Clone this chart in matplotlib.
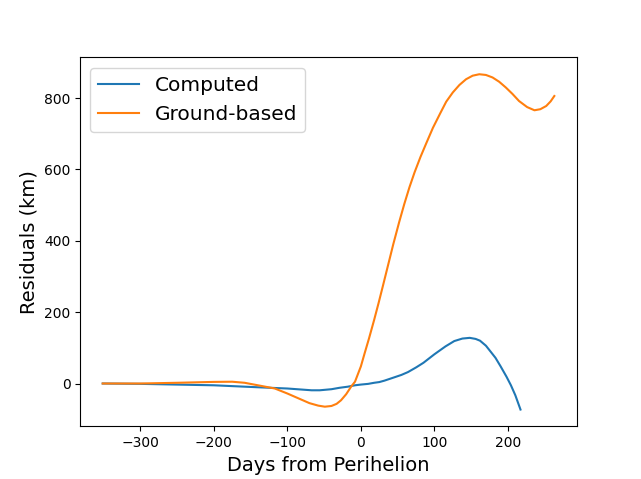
import matplotlib
matplotlib.use("Agg")
import matplotlib.pyplot as plt

computed_days = [-351, -300, -226, -200, -135, -100, -67, -56, -40, -29, -18, -8, 0, 10, 18, 25, 32, 45, 55, 64, 75, 85, 100, 115, 127, 138, 148, 156, 162, 170, 175, 183, 190, 198, 204, 210, 217]
computed_res = [0, -1, -4, -5, -11, -14, -19, -19, -16, -12, -9, -5, -3, -1, 2, 4, 8, 17, 24, 32, 45, 58, 82, 104, 119, 126, 128, 125, 120, 106, 93, 72, 48, 19, -5, -33, -73]

ground_days = [-351, -300, -250, -200, -175, -158, -140, -117, -100, -90, -70, -58, -49, -40, -33, -27, -20, -13, -8, 0, 5, 11, 18, 24, 30, 37, 44, 52, 59, 66, 73, 81, 89, 98, 108, 116, 125, 134, 143, 152, 161, 170, 179, 188, 197, 206, 215, 226, 236, 244, 252, 258, 263]
ground_res = [0, 0, 2, 4.5, 5, 2, -5, -14, -28, -37, -55, -62, -65, -63, -57, -47, -30, -8, 5, 48, 84, 126, 178, 225, 274, 332, 390, 452, 503, 550, 592, 635, 674, 717, 758, 790, 816, 837, 853, 863, 867, 865, 858, 846, 830, 812, 792, 775, 766, 769, 778, 791, 806]

fig, ax = plt.subplots(figsize=(6.41, 4.79), dpi=100)
ax.plot(computed_days, computed_res, label="Computed")
ax.plot(ground_days, ground_res, label="Ground-based")
ax.set_xlabel("Days from Perihelion", fontsize=14)
ax.set_ylabel("Residuals (km)", fontsize=14)
ax.legend(fontsize=14.5, loc="upper left")
fig.savefig("out.png", dpi=100)
